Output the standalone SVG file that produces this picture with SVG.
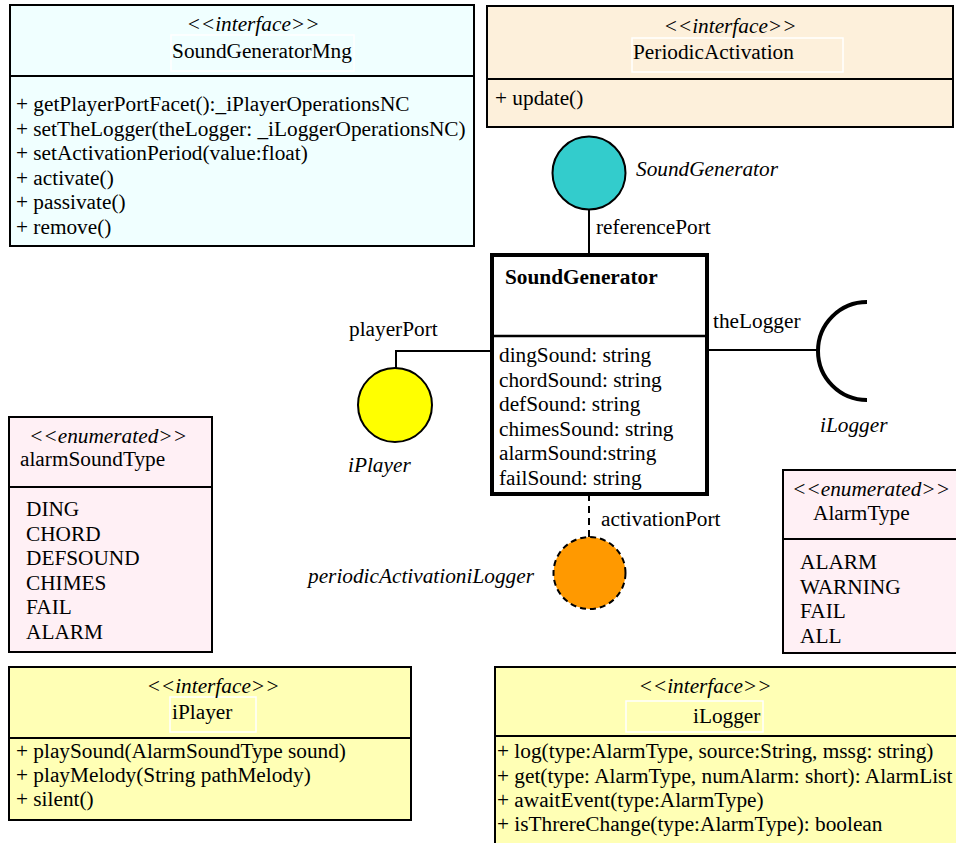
<svg xmlns="http://www.w3.org/2000/svg" width="956" height="843" viewBox="0 0 956 843">
  <style>
    text { font-family: "Liberation Serif", "Times New Roman", serif; font-size: 21.3px; fill: #000; }
    .it { font-style: italic; }
    .b { font-weight: bold; }
    .mid { text-anchor: middle; }
    .box { stroke: #000; stroke-width: 2; }
    .div { stroke: #000; stroke-width: 2; }
    .namebox { fill: none; stroke: #fff; stroke-width: 1.5; }
    .wire { stroke: #000; stroke-width: 2; fill: none; }
  </style>

  <!-- interface SoundGeneratorMng -->
  <g id="SoundGeneratorMng">
    <rect class="box" x="10" y="5" width="464" height="241" fill="#F0FFFF"/>
    <rect class="namebox" x="171" y="35" width="183" height="36"/>
    <line class="div" x1="10" y1="76" x2="474" y2="76"/>
    <text class="it mid" x="253" y="31">&lt;&lt;interface&gt;&gt;</text>
    <text class="mid" x="262" y="58">SoundGeneratorMng</text>
    <text x="16" y="111">+ getPlayerPortFacet():_iPlayerOperationsNC</text>
    <text x="16" y="135.5">+ setTheLogger(theLogger: _iLoggerOperationsNC)</text>
    <text x="16" y="160">+ setActivationPeriod(value:float)</text>
    <text x="16" y="184.5">+ activate()</text>
    <text x="16" y="209">+ passivate()</text>
    <text x="16" y="233.5">+ remove()</text>
  </g>

  <!-- interface PeriodicActivation -->
  <g id="PeriodicActivation">
    <rect class="box" x="487" y="6" width="466" height="121" fill="#FDF0DB"/>
    <rect class="namebox" x="632" y="38" width="211" height="34"/>
    <line class="div" x1="487" y1="79" x2="953" y2="79"/>
    <text class="it mid" x="730" y="33">&lt;&lt;interface&gt;&gt;</text>
    <text x="633" y="59">PeriodicActivation</text>
    <text x="495" y="105">+ update()</text>
  </g>

  <!-- connectors between the component and its ports -->
  <g id="connectors">
    <line class="wire" x1="589" y1="210" x2="589" y2="255"/>
    <polyline class="wire" points="492,351 396,351 396,368"/>
    <line class="wire" x1="707" y1="350" x2="818" y2="350"/>
    <line class="wire" x1="589" y1="494" x2="589" y2="537" stroke-dasharray="7 5"/>
  </g>

  <!-- provided interface: SoundGenerator -->
  <g id="port-SoundGenerator">
    <circle cx="589" cy="173" r="36.5" fill="#33CCCC" stroke="#000" stroke-width="2"/>
    <text class="it" x="636" y="176">SoundGenerator</text>
    <text x="596" y="234">referencePort</text>
  </g>

  <!-- component SoundGenerator -->
  <g id="SoundGenerator">
    <rect x="492" y="255" width="215" height="239" fill="#fff" stroke="#000" stroke-width="4"/>
    <line x1="492" y1="336" x2="707" y2="336" stroke="#000" stroke-width="2.5"/>
    <text class="b" x="505" y="284">SoundGenerator</text>
    <text x="499" y="362">dingSound: string</text>
    <text x="499" y="386.5">chordSound: string</text>
    <text x="499" y="411">defSound: string</text>
    <text x="499" y="435.5">chimesSound: string</text>
    <text x="499" y="460">alarmSound:string</text>
    <text x="499" y="484.5">failSound: string</text>
  </g>

  <!-- provided interface: iPlayer -->
  <g id="port-iPlayer">
    <circle cx="395" cy="405" r="37" fill="#FFFF00" stroke="#000" stroke-width="2"/>
    <text x="349" y="336">playerPort</text>
    <text class="it" x="348" y="472">iPlayer</text>
  </g>

  <!-- required interface: iLogger -->
  <g id="port-iLogger">
    <path d="M 867 302 A 49 49 0 0 0 867 400" fill="none" stroke="#000" stroke-width="4"/>
    <text x="713" y="328">theLogger</text>
    <text class="it" x="820" y="432">iLogger</text>
  </g>

  <!-- activation port -->
  <g id="port-activation">
    <circle cx="589.5" cy="573" r="36" fill="#FF9900" stroke="#000" stroke-width="2" stroke-dasharray="6 4"/>
    <text x="601" y="526">activationPort</text>
    <text class="it" x="308" y="583">periodicActivationiLogger</text>
  </g>

  <!-- enumeration alarmSoundType -->
  <g id="alarmSoundType">
    <rect class="box" x="9" y="417" width="203" height="235" fill="#FFF0F5"/>
    <line class="div" x1="9" y1="487" x2="212" y2="487"/>
    <text class="it" x="29" y="443">&lt;&lt;enumerated&gt;&gt;</text>
    <text x="20" y="466">alarmSoundType</text>
    <text x="26" y="516">DING</text>
    <text x="26" y="540.5">CHORD</text>
    <text x="26" y="565">DEFSOUND</text>
    <text x="26" y="589.5">CHIMES</text>
    <text x="26" y="614">FAIL</text>
    <text x="26" y="638.5">ALARM</text>
  </g>

  <!-- enumeration AlarmType -->
  <g id="AlarmType">
    <rect class="box" x="783" y="470" width="200" height="183" fill="#FFF0F5"/>
    <line class="div" x1="783" y1="539" x2="983" y2="539"/>
    <text class="it" x="792" y="496">&lt;&lt;enumerated&gt;&gt;</text>
    <text x="813" y="520">AlarmType</text>
    <text x="800" y="569">ALARM</text>
    <text x="800" y="593.5">WARNING</text>
    <text x="800" y="618">FAIL</text>
    <text x="800" y="642.5">ALL</text>
  </g>

  <!-- interface iPlayer -->
  <g id="iPlayer">
    <rect class="box" x="9" y="667" width="402" height="153" fill="#FFFFB5"/>
    <rect class="namebox" x="170" y="697" width="86" height="35"/>
    <line class="div" x1="9" y1="738" x2="411" y2="738"/>
    <text class="it mid" x="213" y="693">&lt;&lt;interface&gt;&gt;</text>
    <text x="172" y="719">iPlayer</text>
    <text x="16" y="758">+ playSound(AlarmSoundType sound)</text>
    <text x="16" y="782">+ playMelody(String pathMelody)</text>
    <text x="16" y="806">+ silent()</text>
  </g>

  <!-- interface iLogger -->
  <g id="iLogger">
    <rect class="box" x="495" y="667" width="500" height="200" fill="#FFFFB5"/>
    <rect class="namebox" x="626" y="701" width="137" height="31"/>
    <line class="div" x1="495" y1="736" x2="995" y2="736"/>
    <text class="it mid" x="705" y="693">&lt;&lt;interface&gt;&gt;</text>
    <text x="693" y="723">iLogger</text>
    <text x="497" y="758">+ log(type:AlarmType, source:String, mssg: string)</text>
    <text x="497" y="783">+ get(type: AlarmType, numAlarm: short): AlarmList</text>
    <text x="497" y="807">+ awaitEvent(type:AlarmType)</text>
    <text x="497" y="831">+ isThrereChange(type:AlarmType): boolean</text>
  </g>
</svg>
